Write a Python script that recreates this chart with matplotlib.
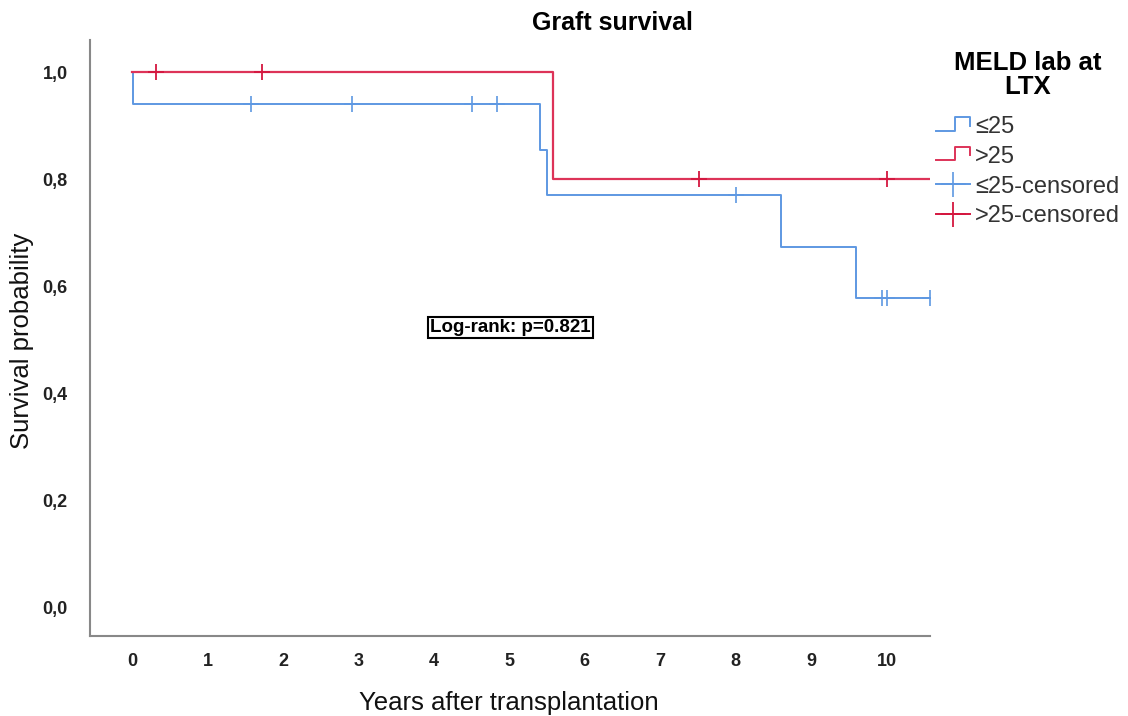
import matplotlib
matplotlib.use("Agg")
import matplotlib.pyplot as plt
from matplotlib.lines import Line2D
from matplotlib.legend_handler import HandlerBase

# Kaplan-Meier estimates, graft survival by MELD lab at LTX
low_event_times = [0.0, 0.01, 5.41, 5.50, 8.60, 9.60, 10.58]
low_survival = [1.0, 0.941, 0.855, 0.770, 0.674, 0.578, 0.578]
low_censor_times = [1.57, 2.92, 4.50, 4.84, 8.01, 9.94, 10.01, 10.58]
low_censor_surv = [0.941, 0.941, 0.941, 0.941, 0.770, 0.578, 0.578, 0.578]

high_event_times = [0.0, 5.58, 10.58]
high_survival = [1.0, 0.80, 0.80]
high_censor_times = [0.32, 1.72, 7.51, 10.01]
high_censor_surv = [1.0, 1.0, 0.80, 0.80]

group_labels = ["\u226425", ">25"]
p_value = 0.821

BLUE = "#5e98e2"
RED = "#dd3358"
SANS = ["Liberation Sans", "DejaVu Sans"]


class StepHandler(HandlerBase):
    def create_artists(self, legend, orig_handle, xdescent, ydescent,
                       width, height, fontsize, trans):
        x0, y0 = -xdescent, -ydescent
        xs = [x0, x0 + width * 0.55, x0 + width * 0.55, x0 + width, x0 + width]
        ys = [y0 + height * 0.15, y0 + height * 0.15, y0 + height * 0.95,
              y0 + height * 0.95, y0 + height * 0.45]
        line = Line2D(xs, ys, color=orig_handle.get_color(), lw=1.4)
        line.set_transform(trans)
        return [line]


fig = plt.figure(figsize=(11.28, 7.16), dpi=100)
ax = fig.add_axes([0.0798, 0.1117, 0.745, 0.8323])

ax.step(low_event_times, low_survival, where="post", color=BLUE, lw=1.4)
ax.step(high_event_times, high_survival, where="post", color=RED, lw=1.6)
ax.plot(low_censor_times, low_censor_surv, ls="none", marker="+", ms=11,
        mew=1.2, color=BLUE)
ax.plot(high_censor_times, high_censor_surv, ls="none", marker="+", ms=11,
        mew=1.3, color="#d4173f")

ax.set_xlim(-0.557, 10.58)
ax.set_ylim(-0.054, 1.06)
ax.set_xticks(range(0, 11))
ax.set_yticks([0.0, 0.2, 0.4, 0.6, 0.8, 1.0])
ax.set_yticklabels([f"{v:.1f}".replace(".", ",") for v in ax.get_yticks()])
ax.tick_params(length=0, labelsize=13, labelcolor="#222222")
ax.tick_params(axis="x", pad=12)
ax.tick_params(axis="y", pad=16)
for lab in ax.get_xticklabels() + ax.get_yticklabels():
    lab.set_family(SANS)
    lab.set_fontweight("bold")

for side in ["top", "right"]:
    ax.spines[side].set_visible(False)
for side in ["left", "bottom"]:
    ax.spines[side].set_color("#888888")
    ax.spines[side].set_linewidth(1.5)

fig.text(0.451, 0.0185, "Years after transplantation", ha="center",
         va="center", family=SANS, fontsize=18.5, color="#111111")
fig.text(0.0195, 0.524, "Survival probability", ha="center", va="center",
         rotation=90, family=SANS, fontsize=18.5, color="#111111")

ax.text(5.01, 0.523, f"Log-rank: p={p_value:.3f}", ha="center", va="center",
        fontsize=13.5, fontweight="bold", family=SANS,
        bbox=dict(boxstyle="square,pad=0.12", facecolor="white",
                  edgecolor="black", lw=1.5))

fig.text(0.543, 0.968, "Graft survival", ha="center", va="center",
         fontsize=18, fontweight="bold", family=SANS)

handles = [
    Line2D([], [], color=BLUE),
    Line2D([], [], color=RED),
    Line2D([], [], color=BLUE, marker="+", ms=18, mew=1.2, lw=1.4),
    Line2D([], [], color="#d4173f", marker="+", ms=18, mew=1.3, lw=1.4),
]
labels = [group_labels[0], group_labels[1],
          f"{group_labels[0]}-censored", f"{group_labels[1]}-censored"]
leg = fig.legend(handles, labels, loc="upper left",
                 bbox_to_anchor=(0.811, 0.958), frameon=False,
                 title="MELD lab at\nLTX", handlelength=1.45,
                 handletextpad=0.2, labelspacing=0.33,
                 handler_map={handles[0]: StepHandler(),
                              handles[1]: StepHandler()},
                 prop={"family": SANS, "size": 17})
leg.get_title().set_fontweight("bold")
leg.get_title().set_fontsize(18.5)
leg.get_title().set_family(SANS)
leg.get_title().set_multialignment("center")
leg.get_title().set_linespacing(1.0)
leg._legend_box.align = "center"
leg._legend_box.sep = 12
for t in leg.get_texts():
    t.set_color("#333333")

fig.savefig("out.png", dpi=100)
